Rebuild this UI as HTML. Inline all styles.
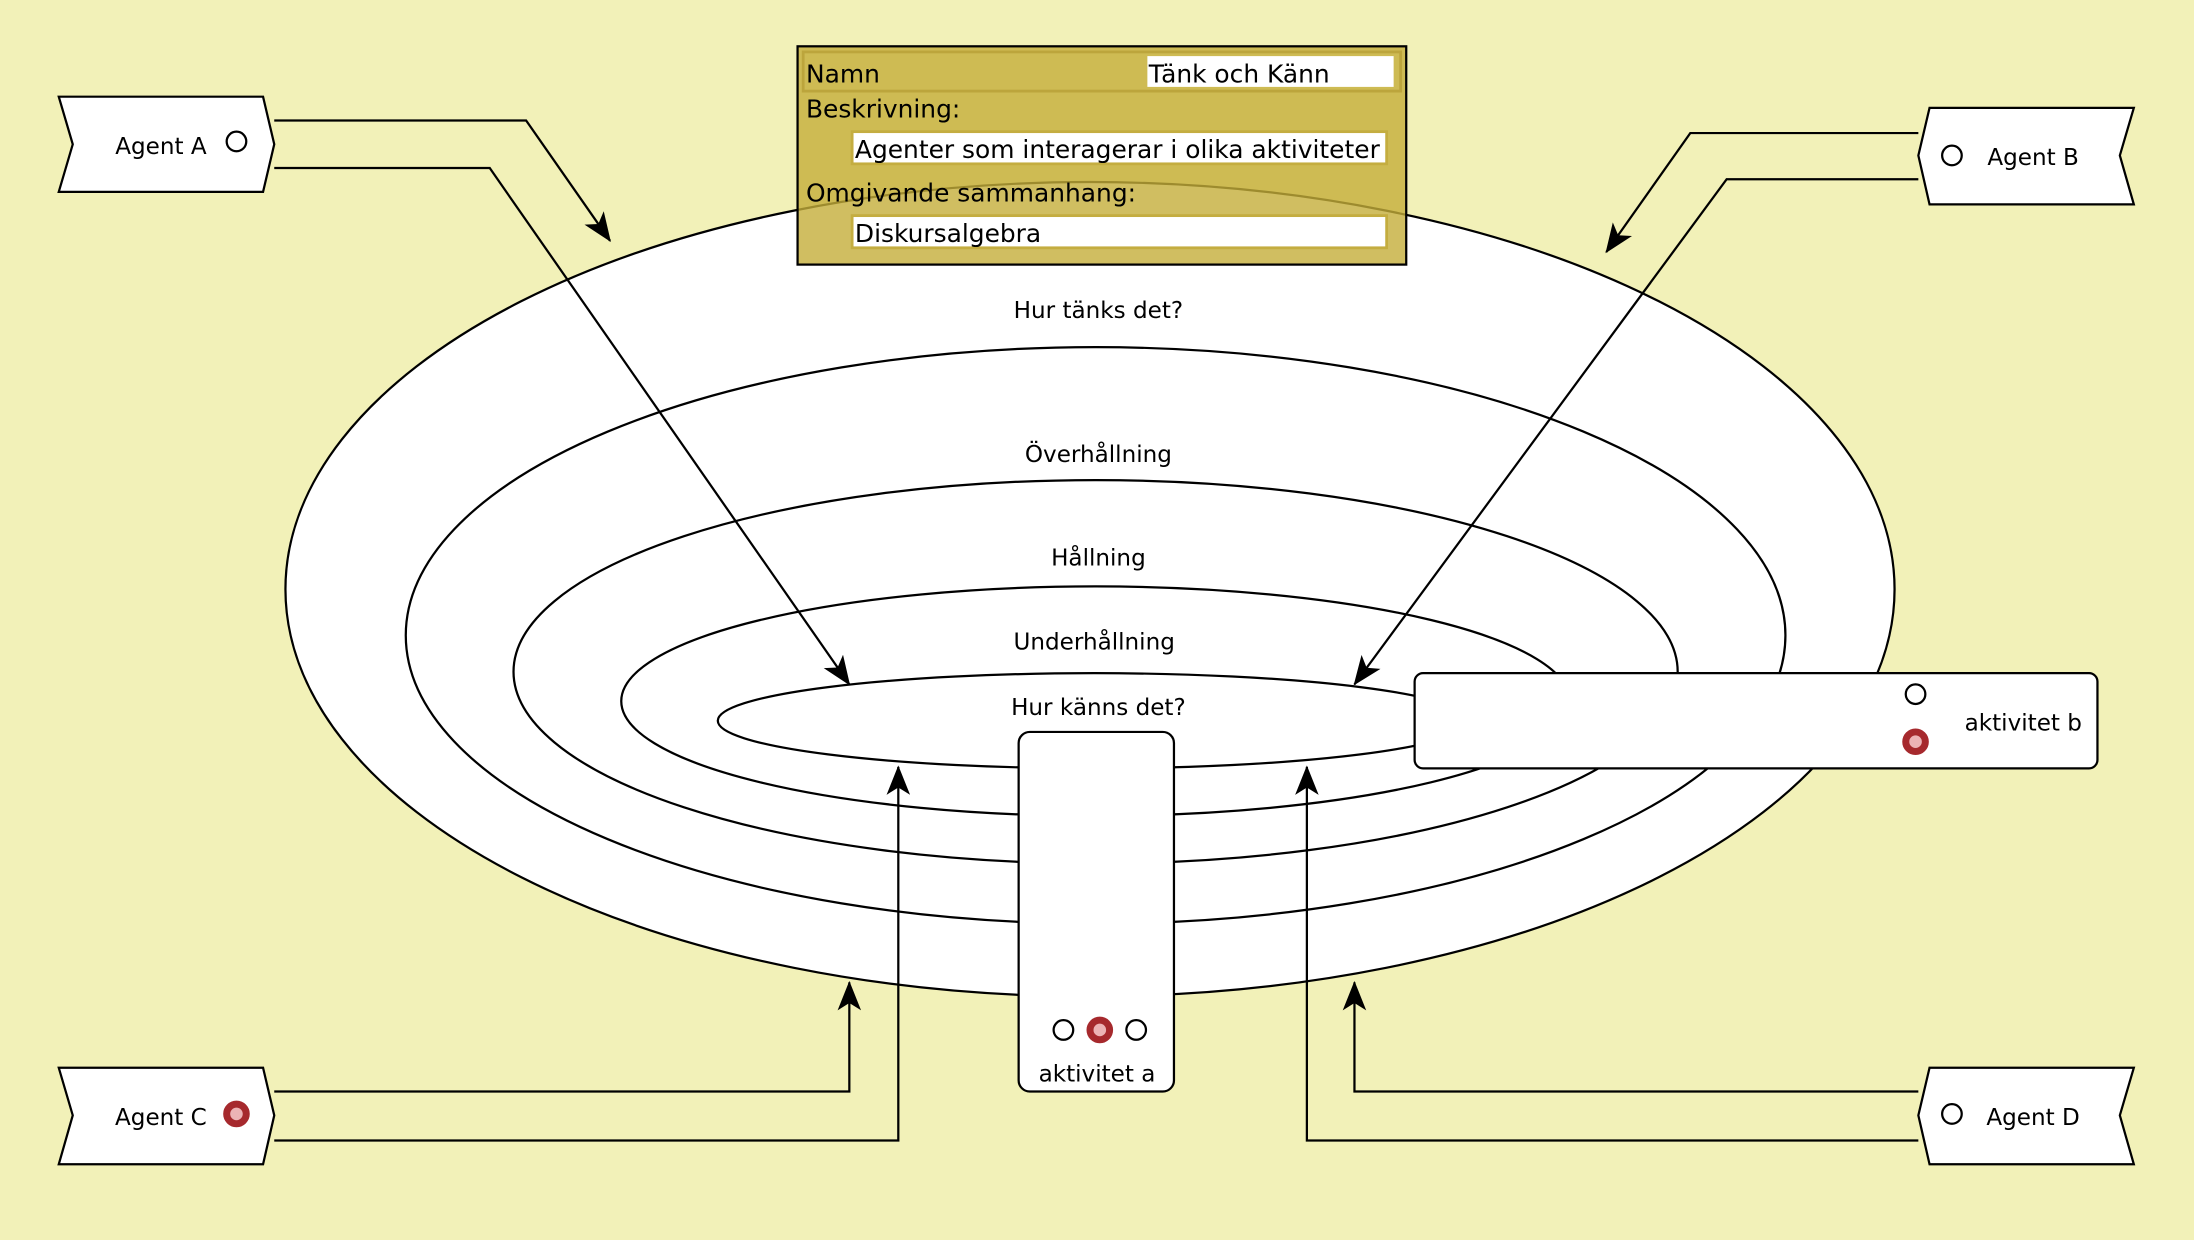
<!DOCTYPE html>
<html><head><meta charset="utf-8"><style>
html,body{margin:0;padding:0;background:#f2f1b8;}
svg{display:block}
text{font-family:"DejaVu Sans","Liberation Sans",sans-serif;fill:#000}
</style></head><body>
<svg width="2194" height="1240" viewBox="0 0 1568 886" xmlns="http://www.w3.org/2000/svg">
<defs>
<marker id="ar" viewBox="0 0 20 16" refX="19" refY="8" markerWidth="21" markerHeight="17" markerUnits="userSpaceOnUse" orient="auto">
<path d="M0,0 L20,8 L0,16 L5,8 z" fill="#000"/>
</marker>
</defs>
<rect width="1568" height="886" fill="#f2f1b8"/>
<g fill="#fff" stroke="#000" stroke-width="1.6">
<ellipse cx="779" cy="421" rx="575" ry="291"/>
<ellipse cx="783" cy="454" rx="493" ry="206"/>
<ellipse cx="783" cy="480" rx="416" ry="137"/>
<ellipse cx="783" cy="501" rx="339" ry="82"/>
<ellipse cx="782" cy="515" rx="269" ry="34"/>
</g>
<g font-size="16.5" text-anchor="middle">
<text x="785" y="227">Hur tänks det?</text>
<text x="785" y="330">Överhållning</text>
<text x="785" y="404">Hållning</text>
<text x="782" y="464">Underhållning</text>
<text x="785" y="511">Hur känns det?</text>
</g>
<rect x="728" y="523" width="111" height="257" rx="8" fill="#fff" stroke="#000" stroke-width="1.6"/>
<circle cx="760" cy="736" r="7" fill="#fff" stroke="#000" stroke-width="1.6"/>
<circle cx="786" cy="736" r="7" fill="#ecb3b5" stroke="#a6292d" stroke-width="5"/>
<circle cx="812" cy="736" r="7" fill="#fff" stroke="#000" stroke-width="1.6"/>
<text x="784" y="773" font-size="16.5" text-anchor="middle">aktivitet a</text>
<rect x="1011" y="481" width="488" height="68" rx="6" fill="#fff" stroke="#000" stroke-width="1.6"/>
<circle cx="1369" cy="496" r="7" fill="#fff" stroke="#000" stroke-width="1.6"/>
<circle cx="1369" cy="530" r="7" fill="#ecb3b5" stroke="#a6292d" stroke-width="5"/>
<text x="1446" y="522" font-size="16.5" text-anchor="middle">aktivitet b</text>
<g fill="#fff" stroke="#000" stroke-width="1.6">
<path d="M42,69 L188,69 L196,103 L188,137 L42,137 L52,103 z"/>
<path d="M42,763 L188,763 L196,797 L188,832 L42,832 L52,797 z"/>
<path d="M1525,77 L1379,77 L1371,111 L1379,146 L1525,146 L1515,111 z"/>
<path d="M1525,763 L1379,763 L1371,797 L1379,832 L1525,832 L1515,797 z"/>
<circle cx="169" cy="101" r="7"/>
<circle cx="1395" cy="111" r="7"/>
<circle cx="1395" cy="796" r="7"/>
</g>
<circle cx="169" cy="796" r="7" fill="#ecb3b5" stroke="#a6292d" stroke-width="5"/>
<g font-size="16.5" text-anchor="middle">
<text x="115" y="110">Agent A</text>
<text x="1453" y="118">Agent B</text>
<text x="115" y="804">Agent C</text>
<text x="1453" y="804">Agent D</text>
</g>
<g fill="none" stroke="#000" stroke-width="1.6" marker-end="url(#ar)">
<polyline points="196,86 376,86 436,172"/>
<polyline points="196,120 350,120 607,489"/>
<polyline points="1371,95 1208,95 1148,180"/>
<polyline points="1371,128 1234,128 968,489"/>
<polyline points="196,780 607,780 607,702"/>
<polyline points="196,815 642,815 642,548"/>
<polyline points="1371,780 968,780 968,702"/>
<polyline points="1371,815 934,815 934,548"/>
</g>
<rect x="570" y="33" width="435" height="156" fill="rgba(196,174,58,0.8)" stroke="#000" stroke-width="1.6"/>
<rect x="574" y="37" width="427" height="28" fill="none" stroke="#bca53c" stroke-width="2"/>
<rect x="820" y="40" width="176" height="22" fill="#fff"/>
<rect x="609" y="94" width="382" height="23" fill="#fff" stroke="#c4ad40" stroke-width="2"/>
<rect x="609" y="154" width="382" height="23" fill="#fff" stroke="#c4ad40" stroke-width="2"/>
<g font-size="17.8">
<text x="576" y="59">Namn</text>
<text x="821" y="59">Tänk och Känn</text>
<text x="576" y="84">Beskrivning:</text>
<text x="611" y="113">Agenter som interagerar i olika aktiviteter</text>
<text x="576" y="144">Omgivande sammanhang:</text>
<text x="611" y="173">Diskursalgebra</text>
</g>
</svg>
</body></html>
